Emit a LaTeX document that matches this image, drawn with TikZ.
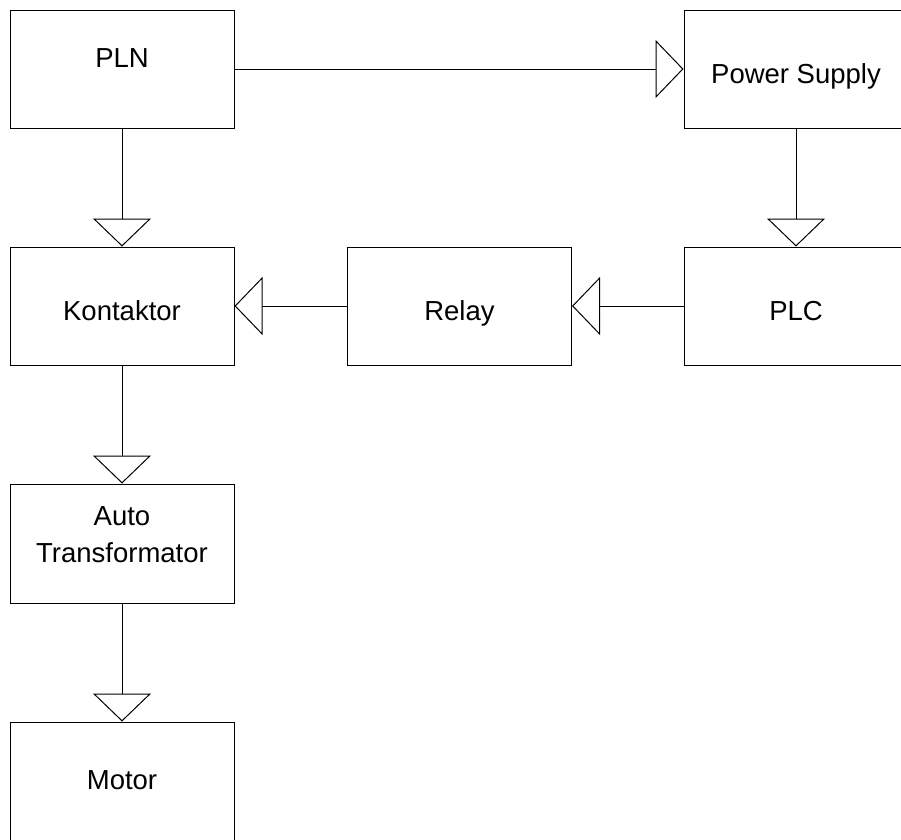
\documentclass[tikz,border=0pt]{standalone}
\usepackage{fontspec}
\setmainfont{Liberation Sans}
\usepackage{tikz}
\usetikzlibrary{arrows.meta}
\tikzset{block/.style = {draw, line width=1pt, minimum width=224pt, minimum height=118pt,
  inner sep=0pt, align=center, text height=28pt, text depth=0pt,
  font=\fontsize{27.5}{37}\selectfont},
  flow/.style = {line width=1pt, -{Triangle[open, length=28pt, width=58pt]}}}

\begin{document}
\begin{tikzpicture}[x=1pt,y=-1pt]
  \clip (0,0) rectangle (901,839);
  \node[block, text height=0pt, text depth=4pt] (pln) at (122,69) {PLN};
  \node[block] (supply) at (796,69) {Power Supply};
  \node[block] (kontaktor) at (122,306) {Kontaktor};
  \node[block] (relay) at (459.5,306) {Relay};
  \node[block] (plc) at (796,306) {PLC};
  \node[block, minimum height=119pt, text height=37pt] (auto) at (122,543.5) {Auto\\Transformator};
  \node[block, text height=16pt] (motor) at (122,781) {Motor};
  \path[flow] (pln) edge (supply);
  \path[flow] (pln) edge (kontaktor);
  \path[flow] (supply) edge (plc);
  \path[flow] (plc) edge (relay);
  \path[flow] (relay) edge (kontaktor);
  \path[flow] (kontaktor) edge (auto);
  \path[flow] (auto) edge (motor);
\end{tikzpicture}
\end{document}
